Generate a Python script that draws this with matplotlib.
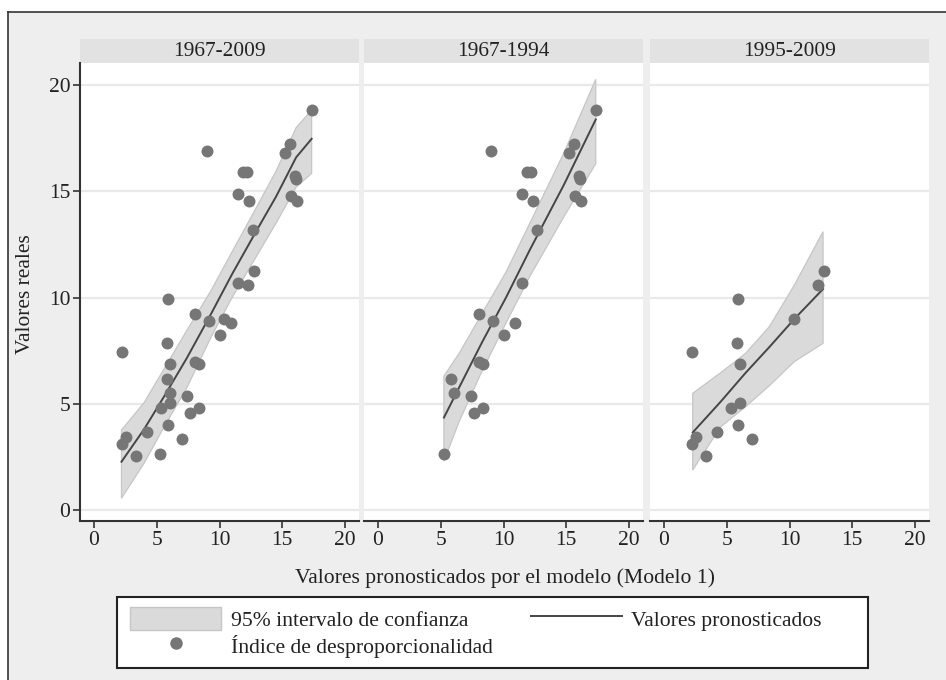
import matplotlib
matplotlib.use("Agg")
import numpy as np
from matplotlib import pyplot as plt
from matplotlib.patches import Rectangle, Patch
from matplotlib.lines import Line2D

plt.rcParams["font.family"] = ["Liberation Serif", "DejaVu Serif"]

# --- data -------------------------------------------------------------
panel_titles = ["1967-2009", "1967-1994", "1995-2009"]

# observed points, 1967-1994
x_early = [17.33, 15.6, 15.2, 9.0, 11.85, 12.15, 16.0, 16.05, 11.45, 12.35, 15.7, 16.2, 12.7,
           11.45, 8.05, 9.15, 10.9, 10.05, 8.05, 8.4, 5.82, 6.1, 7.4, 7.65, 8.35, 5.28]
y_early = [18.82, 17.25, 16.78, 16.91, 15.89, 15.89, 15.73, 15.6, 14.87, 14.56, 14.8, 14.56, 13.18,
           10.7, 9.22, 8.89, 8.78, 8.22, 6.98, 6.85, 6.15, 5.5, 5.36, 4.55, 4.79, 2.64]

# observed points, 1995-2009
x_late = [12.72, 12.3, 10.35, 5.9, 5.8, 2.25, 6.1, 6.1, 5.35, 5.9, 4.2, 2.55, 2.25, 7.05, 3.35]
y_late = [11.26, 10.57, 9.0, 9.91, 7.87, 7.42, 6.87, 5.02, 4.79, 4.0, 3.69, 3.45, 3.09, 3.34, 2.54]

# predicted line and 95% band per panel
fit_x_all = [2.2, 4.0, 5.6, 7.4, 9.3, 11.0, 12.9, 14.5, 16.1, 17.33]
fit_y_all = [2.27, 3.8, 5.35, 7.15, 9.2, 11.1, 13.1, 14.75, 16.6, 17.47]
hi_all = [3.76, 5.05, 6.65, 8.45, 10.3, 12.15, 14.2, 15.95, 18.0, 18.82]
lo_all = [0.55, 2.2, 3.92, 5.75, 8.1, 10.0, 11.9, 13.5, 15.2, 15.84]

fit_x_early = [5.26, 6.5, 8.3, 10.2, 12.1, 14.8, 17.34]
fit_y_early = [4.35, 5.8, 7.9, 10.0, 12.25, 15.3, 18.38]
hi_early = [6.3, 7.4, 9.25, 11.2, 13.5, 16.8, 20.27]
lo_early = [2.3, 4.2, 6.55, 8.8, 11.0, 13.8, 16.3]

fit_x_late = [2.3, 4.5, 6.5, 8.4, 10.4, 12.67]
fit_y_late = [3.65, 5.08, 6.45, 7.67, 9.0, 10.4]
hi_late = [5.49, 6.45, 7.37, 8.63, 10.6, 13.1]
lo_late = [1.88, 3.9, 4.86, 5.85, 6.99, 7.84]

panels = [
    (x_early + x_late, y_early + y_late, fit_x_all, fit_y_all, lo_all, hi_all),
    (x_early, y_early, fit_x_early, fit_y_early, lo_early, hi_early),
    (x_late, y_late, fit_x_late, fit_y_late, lo_late, hi_late),
]

ticks = [0, 5, 10, 15, 20]

# --- layout (pixels) ----------------------------------------------------
W, H = 946, 680
fig = plt.figure(figsize=(W / 100, H / 100), dpi=100)
fig.patch.set_facecolor("white")
fig.add_artist(Rectangle((8 / W, 0), 1, 1 - 12 / H, transform=fig.transFigure,
                         facecolor="#eeeeee", edgecolor="none", zorder=-10))
fig.add_artist(Line2D([8 / W, 1], [1 - 12 / H, 1 - 12 / H], transform=fig.transFigure,
                      color="#333333", linewidth=1.2))
fig.add_artist(Line2D([8 / W, 8 / W], [0, 1 - 12 / H], transform=fig.transFigure,
                      color="#333333", linewidth=1.2))

PANEL_LEFT = [80, 364, 650]
PANEL_W = 279
PANEL_TOP, PANEL_BOTTOM = 63, 521
STRIP_H = 24

point_color = "#767676"
band_color = "#dadada"
line_color = "#454545"
text_color = "#222222"

for i, (px, py, fx, fy, lo, hi) in enumerate(panels):
    ax = fig.add_axes([PANEL_LEFT[i] / W, 1 - PANEL_BOTTOM / H, PANEL_W / W,
                       (PANEL_BOTTOM - PANEL_TOP) / H])
    ax.set_facecolor("white")
    ax.set_xlim(-1.1, 21.1)
    ax.set_ylim(-0.52, 21.04)
    ax.set_yticks(ticks)
    ax.set_xticks(ticks)
    for t in ticks:
        ax.axhline(t, color="#e9e9e9", linewidth=1.6, zorder=0)

    ax.fill(list(fx) + list(fx)[::-1], list(hi) + list(lo)[::-1],
            facecolor=band_color, edgecolor="#c6c6c6", linewidth=0.9, zorder=1)
    ax.plot(fx, fy, color=line_color, linewidth=1.4, zorder=2)
    ax.scatter(px, py, s=74, color=point_color, linewidths=0, zorder=3)

    for side in ["top", "right"]:
        ax.spines[side].set_visible(False)
    ax.spines["bottom"].set_color("#333333")
    ax.spines["bottom"].set_linewidth(1.5)
    ax.tick_params(axis="x", length=5, width=1.2, color="#333333", labelsize=15.5,
                   labelcolor=text_color, pad=2)
    if i == 0:
        ax.spines["left"].set_color("#333333")
        ax.spines["left"].set_linewidth(1.5)
        ax.tick_params(axis="y", length=5, width=1.2, color="#333333", labelsize=15.5,
                       labelcolor=text_color, pad=2)
    else:
        ax.spines["left"].set_visible(False)
        ax.tick_params(axis="y", left=False, labelleft=False)

    sh = STRIP_H / (PANEL_BOTTOM - PANEL_TOP)
    ax.add_patch(Rectangle((0, 1), 1, sh, transform=ax.transAxes, facecolor="#e2e2e2",
                           edgecolor="none", clip_on=False))
    ax.text(0.5, 1 + sh / 2, panel_titles[i], transform=ax.transAxes, ha="center",
            va="center", fontsize=15.4, color=text_color)

fig.text(505 / W, 1 - 578 / H, "Valores pronosticados por el modelo (Modelo 1)",
         ha="center", va="center", fontsize=15.6, color=text_color)
fig.text(25 / W, 1 - 294 / H, "Valores reales", rotation=90, ha="center", va="center",
         fontsize=15.4, color=text_color)

# legend: frame drawn separately so its box matches the reference
fig.add_artist(Rectangle((117 / W, 1 - 668 / H), 751 / W, 71 / H, transform=fig.transFigure,
                         facecolor="white", edgecolor="#222222", linewidth=1.5))
handles = [
    Patch(facecolor=band_color, edgecolor="#c6c6c6"),
    Line2D([], [], marker="o", linestyle="none", markersize=9, color=point_color,
           markeredgewidth=0),
    Line2D([], [], color=line_color, linewidth=1.4),
]
labels = ["95% intervalo de confianza", "Índice de desproporcionalidad", "Valores pronosticados"]
leg = fig.legend(handles, labels, ncol=2, loc="upper left",
                 bbox_to_anchor=(130 / W, 1 - 607 / H), frameon=False,
                 fontsize=15.6, handlelength=4.2, handleheight=1.25, borderpad=0,
                 labelspacing=0.15, handletextpad=0.45, columnspacing=1.75, borderaxespad=0)
for txt in leg.get_texts():
    txt.set_color(text_color)

fig.savefig("out.png", dpi=100, facecolor=fig.get_facecolor())
